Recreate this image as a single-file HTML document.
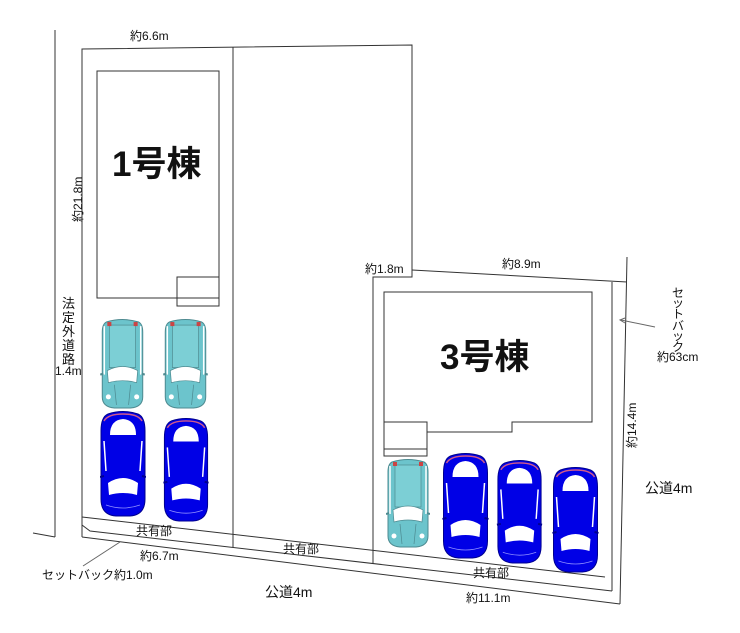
<!DOCTYPE html>
<html><head><meta charset="utf-8"><style>
html,body{margin:0;padding:0;background:#fff;}
svg{display:block;}
text{font-family:"Liberation Sans","Noto Sans CJK JP",sans-serif;fill:#111;}
</style></head><body>
<svg width="740" height="633" viewBox="0 0 740 633" xmlns="http://www.w3.org/2000/svg">
<defs>
<symbol id="teal" viewBox="0 0 44 90">
<path d="M6 4 Q22 -1 38 4 Q42 6 42 14 L42 78 Q42 88 30 89 L14 89 Q2 88 2 78 L2 14 Q2 6 6 4Z" fill="#6cc4cc" stroke="#4d8a90" stroke-width="1"/>
<rect x="9" y="7" width="26" height="42" fill="#7ccfd5" stroke="#4d8a90" stroke-width="0.7"/>
<path d="M7 52 Q22 44 37 52 L36 64 Q22 60 8 64Z" fill="#fff" stroke="#4d8a90" stroke-width="0.7"/>
<path d="M4 8 L4 56 M40 8 L40 56" stroke="#fff" stroke-width="1.5"/>
<path d="M0 56 L3 55 M44 56 L41 55" stroke="#4d8a90" stroke-width="2"/>
<rect x="7" y="4" width="4" height="4" fill="#c44"/><rect x="33" y="4" width="4" height="4" fill="#c44"/>
<circle cx="8" cy="78" r="2.5" fill="#fff"/><circle cx="36" cy="78" r="2.5" fill="#fff"/>
<path d="M14 66 L16 86 M30 66 L28 86" stroke="#4d8a90" stroke-width="0.7"/>
</symbol>
<symbol id="blue" viewBox="0 0 46 106">
<path d="M8 3 Q23 -2 38 3 Q45 6 45 20 L45 88 Q45 104 30 105 L16 105 Q1 104 1 88 L1 20 Q1 6 8 3Z" fill="#0000e6" stroke="#000090" stroke-width="1"/>
<path d="M4 10 Q8 3 23 3 Q38 3 42 10" fill="none" stroke="#d05a8a" stroke-width="1.5"/>
<path d="M10 24 Q10 9 23 8 Q36 9 36 24 Z" fill="#fff"/>
<path d="M8 72 Q23 62 38 72 L37 84 Q23 80 9 84Z" fill="#fff"/>
<path d="M4 30 L6 60 M42 30 L40 60" stroke="#fff" stroke-width="1.5"/>
<path d="M0 66 L4 65 M46 66 L42 65" stroke="#000090" stroke-width="2"/>
<path d="M6 94 Q23 100 40 94" fill="none" stroke="#9090ff" stroke-width="0.8"/>
</symbol>
</defs>
<g fill="none" stroke="#333" stroke-width="1">
<line x1="55" y1="30" x2="55" y2="537"/>
<line x1="33" y1="533" x2="55" y2="537"/>
<polyline points="82,537 82,49 412,45 412,277 373,277 373,563"/>
<line x1="233" y1="47" x2="233" y2="547"/>
<line x1="412" y1="270" x2="627" y2="282"/>
<line x1="627" y1="257" x2="620" y2="604"/>
<line x1="612" y1="282" x2="612" y2="591"/>
<line x1="82" y1="517" x2="605" y2="577"/>
<polyline points="82,525 90,531 612,591"/>
<line x1="82" y1="537" x2="620" y2="604"/>
<rect x="97" y="71" width="122" height="227"/>
<rect x="177" y="277" width="42" height="29"/>
<polyline points="384,449 384,292 592,292 592,422 512,422 512,432 427,432"/>
<rect x="384" y="422" width="43" height="34"/>
<line x1="384" y1="449" x2="427" y2="449"/>
<line x1="120" y1="542" x2="83" y2="566" stroke="#666"/>
<line x1="655" y1="327" x2="621" y2="320" stroke="#666"/>
<path d="M625 318 L620 320 L625 323" stroke="#666"/>
</g>
<use href="#teal" x="100" y="318" width="45" height="91"/>
<use href="#teal" x="163" y="318" width="45" height="91"/>
<use href="#blue" x="100" y="411" width="46" height="106"/>
<use href="#blue" x="163" y="418" width="46" height="104"/>
<use href="#teal" x="386" y="458" width="44" height="90"/>
<use href="#blue" x="442" y="453" width="47" height="106"/>
<use href="#blue" x="496" y="460" width="47" height="104"/>
<use href="#blue" x="552" y="467" width="47" height="106"/>
<g font-size="12">
<text x="130" y="40">約6.6m</text>
<text x="365" y="273">約1.8m</text>
<text x="502" y="268">約8.9m</text>
<text x="140" y="560">約6.7m</text>
<text x="466" y="602">約11.1m</text>
<text x="136" y="535">共有部</text>
<text x="283" y="553">共有部</text>
<text x="473" y="577">共有部</text>
<text x="42" y="579">セットバック約1.0m</text>
<text x="55" y="375">1.4m</text>
<text x="657" y="361">約63cm</text>
<text transform="translate(82,222) rotate(-90)">約21.8m</text>
<text transform="translate(636,448) rotate(-90)">約14.4m</text>
</g>
<g font-size="13">
<text x="62" y="308">法</text><text x="62" y="322">定</text><text x="62" y="336">外</text><text x="62" y="350">道</text><text x="62" y="364">路</text>
</g>
<g font-size="12">
<text x="672" y="297">セ</text><text x="672" y="307">ッ</text><text x="672" y="318">ト</text><text x="672" y="330">バ</text><text x="672" y="340">ッ</text><text x="672" y="351">ク</text>
</g>
<g font-size="14">
<text x="645" y="493">公道4m</text>
<text x="265" y="597">公道4m</text>
</g>
<text x="112" y="176" font-size="35" font-weight="bold">1号棟</text>
<text x="440" y="369" font-size="35" font-weight="bold">3号棟</text>
</svg>
</body></html>
